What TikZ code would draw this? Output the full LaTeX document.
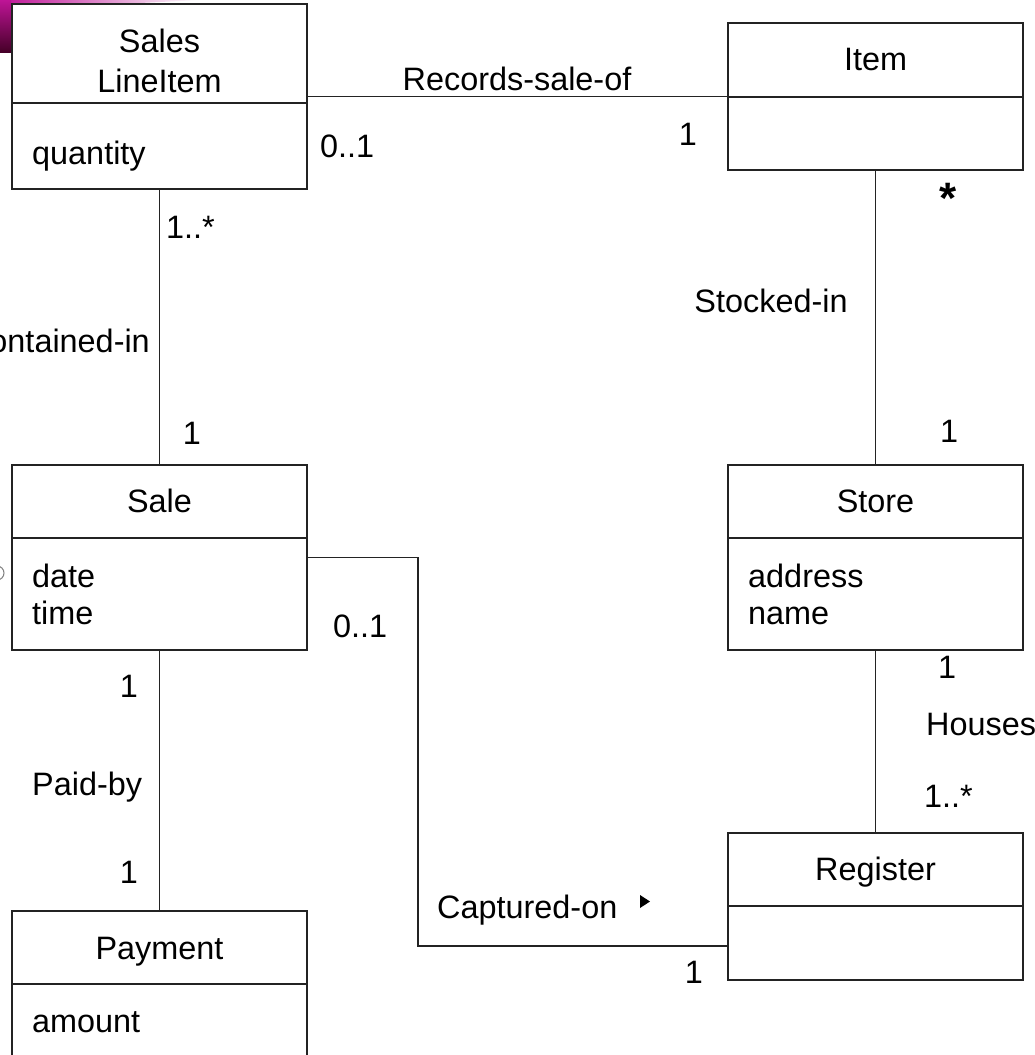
\documentclass[tikz,border=0pt]{standalone}
\usepackage{fontspec}
\setmainfont{Liberation Sans}
\definecolor{linec}{RGB}{35,35,35}
\definecolor{blobtop}{RGB}{190,20,150}
\definecolor{blobdark}{RGB}{70,0,40}
\begin{document}
\begin{tikzpicture}[x=1pt,y=-1pt,
  umlbox/.style={draw=linec, line width=1.3pt, minimum width=295pt, inner sep=0pt},
  lbl/.style={inner sep=0pt, anchor=base, font=\fontsize{32.4}{39}\selectfont},
  lblw/.style={lbl, anchor=base west},
  lble/.style={lbl, anchor=base east},
  conn/.style={draw=linec, line width=1.2pt},
  divider/.style={draw=linec, line width=1.3pt}
]
\useasboundingbox (0,0) rectangle (1035,1055);
\clip (0,0) rectangle (1035,1055);
\fill[white] (0,0) rectangle (1035,1055);

% decorative purple corner
\shade[left color=blobtop, right color=white] (0,0) -- (200,0) -- (120,4) -- (0,5) -- cycle;
\shade[top color=blobtop, bottom color=blobdark] (0,0) rectangle (11,52);
\draw[gray, line width=1pt] (-3,573) circle[radius=7];

% class boxes
\node[umlbox, minimum height=185pt] (sli) at (159.5,96.5) {};
\node[umlbox, minimum height=147pt] (item) at (875.5,96.5) {};
\node[umlbox, minimum height=185pt] (sale) at (159.5,557.5) {};
\node[umlbox, minimum height=185pt] (store) at (875.5,557.5) {};
\node[umlbox, minimum height=147pt] (reg) at (875.5,906.5) {};
\node[umlbox, minimum height=189pt] (pay) at (159.5,1005.5) {};

% compartment dividers
\draw[divider] (sli.west |- 0,103) -- (sli.east |- 0,103);
\draw[divider] (item.west |- 0,97) -- (item.east |- 0,97);
\draw[divider] (sale.west |- 0,538) -- (sale.east |- 0,538);
\draw[divider] (store.west |- 0,538) -- (store.east |- 0,538);
\draw[divider] (reg.west |- 0,906) -- (reg.east |- 0,906);
\draw[divider] (pay.west |- 0,984) -- (pay.east |- 0,984);

% class texts
\node[lbl] (tsales) at (159.5,52) {Sales};
\node[lbl] (tline) at (159.5,92) {LineItem};
\node[lblw] (tqty) at (32,164) {quantity};
\node[lbl] (titem) at (875.5,70) {Item};
\node[lbl] (tsale) at (159.5,512) {Sale};
\node[lblw] (tdate) at (32,587) {date};
\node[lblw] (ttime) at (32,624) {time};
\node[lbl] (tstore) at (875.5,512) {Store};
\node[lblw] (taddr) at (748,587) {address};
\node[lblw] (tname) at (748,624) {name};
\node[lbl] (treg) at (875.5,880) {Register};
\node[lbl] (tpay) at (159.5,959) {Payment};
\node[lblw] (tamt) at (32,1032) {amount};

% associations
\draw[conn] (sli.east) -- (item.west);
\draw[conn] (sli.south) -- (sale.north);
\draw[conn] (item.south) -- (store.north);
\draw[conn] (store.south) -- (reg.north);
\draw[conn] (sale.south) -- (pay.north);
\coordinate (capend) at (728,946);
\draw[conn] (sale.east) -- (418,557.5) |- (capend);

% association labels and multiplicities
\node[lbl] (lrec) at (517,90) {Records-sale-of};
\node[lblw] (m1) at (320,157) {0..1};
\node[lbl] (m2) at (688,145) {1};
\node[lblw] (m3) at (166,238) {1..*};
\node[lble] (lcont) at (150,352) {Contained-in};
\node[lbl] (m4) at (192,444) {1};
\node[inner sep=0pt, anchor=north, font=\fontsize{44}{50}\selectfont\bfseries] (m5) at (948.5,183) {*};
\node[lbl] (lstock) at (771,312) {Stocked-in};
\node[lbl] (m6) at (949,442) {1};
\node[lbl] (m7) at (947,678) {1};
\node[lblw] (lhouse) at (926,735) {Houses};
\node[lblw] (m8) at (924,807) {1..*};
\node[lbl] (m9) at (129,697) {1};
\node[lblw] (lpaid) at (32,795) {Paid-by};
\node[lbl] (m10) at (129,883) {1};
\node[lblw] (m11) at (333,637) {0..1};
\node[lblw] (lcap) at (437,918.5) {Captured-on};
\fill[black] (640,895) -- (650,901.5) -- (640,908) -- cycle;
\node[lbl] (m12) at (694,983) {1};
\end{tikzpicture}
\end{document}
